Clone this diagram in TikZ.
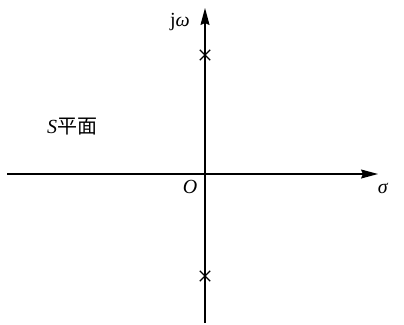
\documentclass[tikz,border=0pt]{standalone}
\usepackage{fontspec}
\setmainfont{Liberation Serif}
\newfontfamily\cjk{Noto Sans CJK SC}
\usetikzlibrary{arrows.meta, shapes.misc}
\tikzset{
    axis/.style={draw, line width=1.2pt, -{Stealth[length=17pt, width=9pt, inset=2pt]}},
    pole/.style={cross out, draw, line width=1.3pt, minimum size=9pt, inner sep=0pt},
    lbl/.style={font=\fontsize{20}{22}\selectfont, inner sep=0pt},
}

\begin{document}
\begin{tikzpicture}[x=1pt, y=-1pt]

    \useasboundingbox (0,0) rectangle (404,324);

    % axis end points
    \coordinate (xl) at (7, 174);
    \coordinate (xr) at (378, 174);
    \coordinate (yb) at (205, 323);
    \coordinate (yt) at (205, 8);

    % axes
    \draw[axis] (xl) -- (xr);
    \draw[axis] (yb) -- (yt);

    % poles
    \node[pole] (p1) at (205, 55) {};
    \node[pole] (p2) at (205, 276) {};

    % labels
    \node[lbl] (jw) at (180, 22) {j\textit{ω}};
    \node[lbl] (sigma) at (383, 188) {\textit{σ}};
    \node[lbl] (orig) at (190, 187) {\textit{O}};
    \node[lbl] (splane) at (72, 127) {\textit{S}{\cjk 平面}};

\end{tikzpicture}
\end{document}
